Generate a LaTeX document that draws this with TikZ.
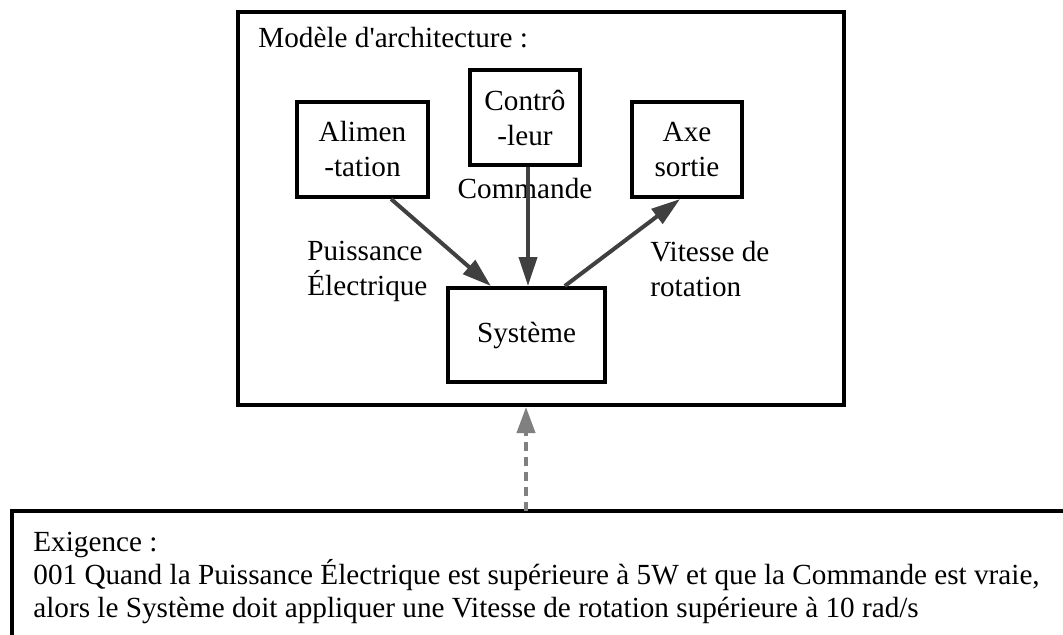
\documentclass[tikz,border=0pt]{standalone}
\usepackage{fontspec}
\setmainfont{Liberation Serif}[Ligatures=TeXOff]
\usetikzlibrary{arrows.meta}
\definecolor{arrowgray}{HTML}{404040}
\definecolor{dashgray}{HTML}{808080}
\tikzset{
  blk/.style={draw=black, line width=2pt, rectangle, inner sep=0pt, align=center,
     font=\fontsize{14.6}{17.5}\selectfont},
  lbl/.style={inner sep=0pt, align=left, font=\fontsize{14.6}{17.5}\selectfont},
  flow/.style={draw=arrowgray, line width=2pt, -{Triangle[length=14.5pt,width=9pt]}},
  trace/.style={draw=dashgray, line width=2pt, dash pattern=on 4.5pt off 3pt,
     -{Triangle[length=13pt,width=9pt]}}
}
\begin{document}
\begin{tikzpicture}[x=0.5pt,y=-0.5pt]
\useasboundingbox (0,0) rectangle (1063,634);
\clip (0,0) rectangle (1063,634);
% outer model box
\node[blk, minimum width=303pt, minimum height=196.5pt] (outer) at (541,208.5) {};
\node[lbl, anchor=base west] (title) at (258,47) {Modèle d'architecture :};
% blocks
\node[blk, minimum width=65.5pt, minimum height=47.5pt] (alim) at (362.5,149.5) {Alimen\\-tation};
\node[blk, minimum width=55pt, minimum height=47.5pt] (ctrl) at (525,117.5) {Contrô\\-leur};
\node[blk, minimum width=55pt, minimum height=47.5pt] (axe) at (687,149.5) {Axe\\sortie};
\node[blk, minimum width=78.5pt, minimum height=47pt] (sys) at (526.5,335) {Système};
% flow labels
\node[lbl, anchor=base] (lcmd) at (525,198) {Commande};
\node[lbl, anchor=north west] (lpuis) at (307,240.5) {Puissance\\Électrique};
\node[lbl, anchor=north west] (lvit) at (650,240.5) {Vitesse de\\rotation};
% flows
\draw[flow] (alim.-60) -- (sys.126);
\draw[flow] ([xshift=1.5pt]ctrl.south) -- ([xshift=1.5pt]ctrl.south |- sys.north);
\draw[flow] (sys.52) -- (axe.-98);
% requirement box
\node[blk, minimum width=544pt, minimum height=95pt] (req) at (556,606) {};
\node[inner sep=0pt, align=left, anchor=north west, font=\fontsize{14.6}{16.5}\selectfont] (reqtext) at (33,532)
  {Exigence :\\001 Quand la Puissance Électrique est supérieure à 5W et que la Commande est vraie,\\alors le Système doit appliquer une Vitesse de rotation supérieure à 10 rad/s};
\coordinate (rtop) at (526,511);
\draw[trace] (rtop) -- (rtop |- outer.south);
\end{tikzpicture}
\end{document}
